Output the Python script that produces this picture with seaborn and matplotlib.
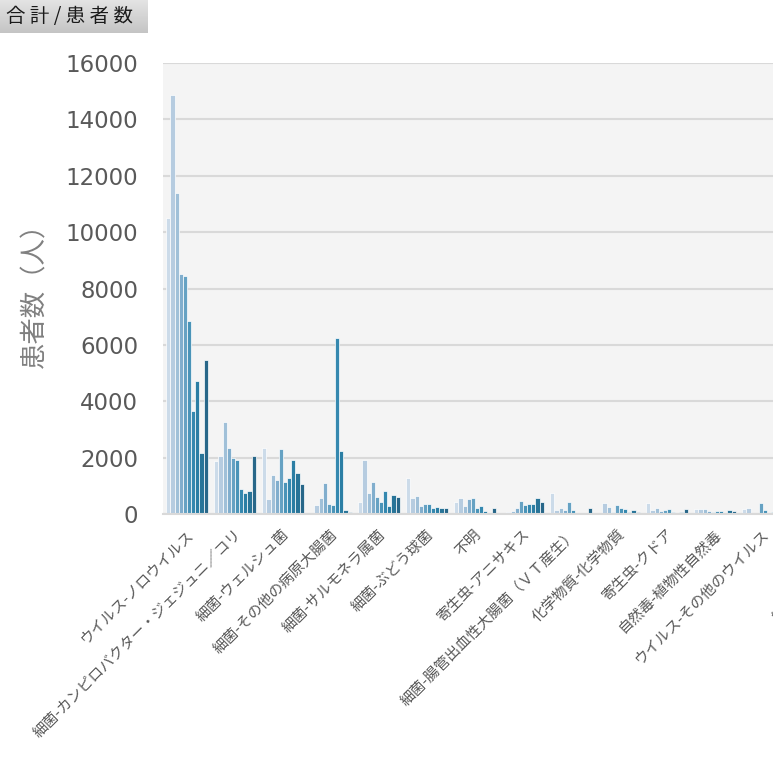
import numpy as np
import pandas as pd
import seaborn as sns
import matplotlib.pyplot as plt
from matplotlib.colors import LinearSegmentedColormap
from matplotlib.transforms import ScaledTranslation

# 食中毒 患者数 (病因物質別, 年別)
years = [str(y) for y in range(2014, 2024)]
categories = [
    'ウイルス-ノロウイルス',
    '細菌-カンピロバクター・ジェジュニ／コリ',
    '細菌-ウェルシュ菌',
    '細菌-その他の病原大腸菌',
    '細菌-サルモネラ属菌',
    '細菌-ぶどう球菌',
    '不明',
    '寄生虫-アニサキス',
    '細菌-腸管出血性大腸菌（ＶＴ産生）',
    '化学物質-化学物質',
    '寄生虫-クドア',
    '自然毒-植物性自然毒',
    'ウイルス-その他のウイルス',
    'その他',
    '細菌-腸炎ビブリオ',
]

norovirus = [10500, 14850, 11400, 8500, 8450, 6850, 3650, 4720, 2160, 5450]
campylobacter = [1880, 2050, 3260, 2340, 1980, 1910, 870, 750, 800, 2050]
welchii = [2330, 530, 1380, 1200, 2290, 1130, 1270, 1910, 1440, 1050]
other_ecoli = [50, 320, 550, 1100, 370, 320, 6260, 2230, 140, 80]
salmonella = [410, 1910, 760, 1150, 620, 440, 830, 290, 660, 620]
staph = [1270, 580, 650, 300, 370, 370, 220, 260, 210, 230]
unknown = [420, 560, 300, 530, 580, 230, 300, 110, 40, 230]
anisakis = [40, 75, 90, 200, 450, 330, 370, 370, 550, 420]
ehec = [730, 130, 230, 130, 410, 130, 15, 35, 35, 230]
chemical = [40, 380, 265, 55, 335, 205, 195, 55, 125, 65]
kudoa = [405, 125, 230, 110, 135, 160, 55, 5, 55, 195]
plant_toxin = [195, 160, 195, 90, 75, 90, 90, 5, 125, 105]
other_virus = [160, 230, 5, 5, 395, 125, 5, 60, 40, 30]
other = [60, 40, 30, 25, 30, 25, 20, 15, 10, 20]
vibrio = [50, 220, 240, 95, 220, 25, 3, 50, 10, 30]

series = [norovirus, campylobacter, welchii, other_ecoli, salmonella, staph,
          unknown, anisakis, ehec, chemical, kudoa, plant_toxin, other_virus,
          other, vibrio]

rows = []
for cat, vals in zip(categories, series):
    for yr, v in zip(years, vals):
        rows.append({'cause': cat, 'year': yr, 'patients': v})
df = pd.DataFrame(rows)

palette = ['#c7dbee', '#afcde7', '#97c1e1', '#74b1da', '#56a6d3',
           '#379acb', '#2190c3', '#1786b8', '#157aab', '#186c99']

plt.rcParams['font.family'] = ['Noto Sans CJK JP', 'DejaVu Sans']

W, H = 773, 764
fig = plt.figure(figsize=(W / 100, H / 100), dpi=100)
n = len(categories)
ax = fig.add_axes([163 / W, (H - 514) / H, 48 * n / W, 451 / H])
ax.set_facecolor('#f4f4f4')

sns.barplot(data=df, x='cause', y='patients', hue='year', order=categories,
            hue_order=years, palette=palette, width=0.86, errorbar=None,
            edgecolor='white', linewidth=0.5, legend=False, ax=ax)

ax.set_xlim(-0.5, n - 0.5)
ax.set_ylim(0, 16000)
ax.set_yticks(range(0, 16001, 2000))
ax.yaxis.grid(True, color='#d9d9d9', linewidth=1.5)
ax.set_axisbelow(True)
for s in ['top', 'right', 'left']:
    ax.spines[s].set_visible(False)
ax.spines['bottom'].set_color('#d9d9d9')
ax.spines['bottom'].set_linewidth(1.5)

ax.tick_params(axis='both', length=0)
ax.tick_params(axis='y', pad=18, labelsize=16.5, labelcolor='#595959')
ax.tick_params(axis='x', pad=13)
for lab in ax.get_yticklabels():
    lab.set_family('DejaVu Sans')
ax.set_xticks(range(n))
ax.set_xticklabels(categories, rotation=45, ha='right', va='center',
                   rotation_mode='anchor', fontsize=10.7, color='#595959')
shift = ScaledTranslation(4 / 100, 0, fig.dpi_scale_trans)
for lab in ax.get_xticklabels():
    lab.set_transform(lab.get_transform() + shift)

ax.set_xlabel('')
ax.set_ylabel('患者数（人）', fontsize=19, color='#808080')
ax.yaxis.set_label_coords((48 - 163) / (48 * n), 0.5)

# pivot field button
bax = fig.add_axes([0, 1 - 33 / H, 148 / W, 33 / H])
grad = np.linspace(0, 1, 64)[:, None]
cmap = LinearSegmentedColormap.from_list('btn', ['#e4e4e4', '#c4c4c4'])
bax.imshow(grad, cmap=cmap, aspect='auto', extent=[0, 1, 0, 1])
bax.axis('off')
bax.text(6 / 148, 0.5, '合 計 / 患 者 数', transform=bax.transAxes,
         va='center', ha='left', fontsize=14, color='#1a1a1a')

fig.savefig('out.png', dpi=100)
